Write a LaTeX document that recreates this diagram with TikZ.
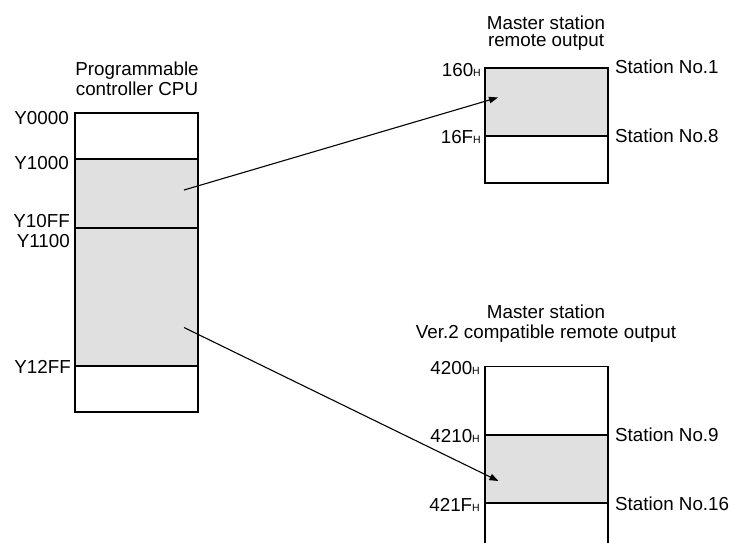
\documentclass[tikz,border=0pt]{standalone}
\usepackage{fontspec}
\setmainfont{Liberation Sans}
\usetikzlibrary{arrows.meta}
\definecolor{fillgray}{RGB}{224,224,224}
\newcommand{\hsub}{{\fontsize{10.5}{11}\selectfont H}}
\begin{document}
\begin{tikzpicture}[x=1pt,y=-1pt,
  boxline/.style={draw=black,line width=1.2pt},
  shade/.style={fill=fillgray},
  lbl/.style={inner sep=0pt,font=\fontsize{18.8}{22}\selectfont},
  conn/.style={line width=1.1pt,-{Triangle[length=9pt,width=6.5pt]}}
]
\useasboundingbox (0,0) rectangle (733,543);

% ---- left box (CPU) ----
\fill[shade] (75,159) rectangle (198,366);
\draw[boxline] (75,113) rectangle (198,412);
\draw[boxline] (75,159) -- (198,159);
\draw[boxline] (75,228) -- (198,228);
\draw[boxline] (75,366) -- (198,366);

\node[lbl,anchor=base] (t1a) at (137,75) {Programmable};
\node[lbl,anchor=base] (t1b) at (137,95) {controller CPU};

\node[lbl,anchor=base east] (y0) at (69,124) {Y0000};
\node[lbl,anchor=base east] (y1) at (69,169) {Y1000};
\node[lbl,anchor=base east] (y2) at (70,227) {Y10FF};
\node[lbl,anchor=base east] (y3) at (70,247) {Y1100};
\node[lbl,anchor=base east] (y4) at (71,373) {Y12FF};

% ---- top right box ----
\fill[shade] (485,68) rectangle (608,136);
\draw[boxline] (485,68) rectangle (608,183);
\draw[boxline] (485,136) -- (608,136);

\node[lbl,anchor=base] (t2a) at (546,29.5) {Master station};
\node[lbl,anchor=base] (t2b) at (546,47) {remote output};

\node[lbl,anchor=base east] (a160) at (481,76) {160\hsub};
\node[lbl,anchor=base east] (a16f) at (481,143) {16F\hsub};
\node[lbl,anchor=base west] (s1) at (615,74) {Station No.1};
\node[lbl,anchor=base west] (s8) at (615,142) {Station No.8};

% ---- bottom right box ----
\fill[shade] (485,435) rectangle (608,503);
\draw[boxline] (485,543) -- (485,366.5) -- (608,366.5) -- (608,543);
\draw[boxline] (485,435) -- (608,435);
\draw[boxline] (485,503) -- (608,503);

\node[lbl,anchor=base] (t3a) at (546,318) {Master station};
\node[lbl,anchor=base] (t3b) at (546,338) {Ver.2 compatible remote output};

\node[lbl,anchor=base east] (a4200) at (480,374) {4200\hsub};
\node[lbl,anchor=base east] (a4210) at (480,442) {4210\hsub};
\node[lbl,anchor=base east] (a421f) at (480,511) {421F\hsub};
\node[lbl,anchor=base west] (s9) at (615,441) {Station No.9};
\node[lbl,anchor=base west] (s16) at (615,510) {Station No.16};

% ---- connectors ----
\coordinate (p1) at (184,190);
\coordinate (q1) at (498,97.5);
\coordinate (p2) at (184,327.5);
\coordinate (q2) at (498.5,481);
\draw[conn] (p1) -- (q1);
\draw[conn] (p2) -- (q2);
\end{tikzpicture}
\end{document}
